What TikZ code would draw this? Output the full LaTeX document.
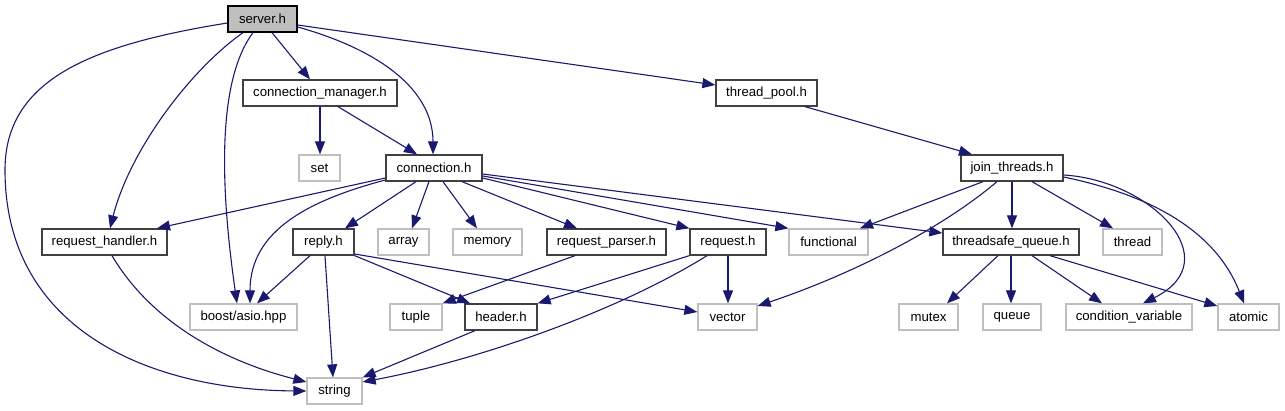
\documentclass[tikz,border=0pt]{standalone}
\usepackage{fontspec}
\setmainfont{Liberation Sans}
\usetikzlibrary{arrows.meta}
\definecolor{edgeblue}{HTML}{191970}
\definecolor{sysgray}{HTML}{BFBFBF}
\definecolor{docborder}{HTML}{404040}
\begin{document}
\begin{tikzpicture}[x=1pt,y=-1pt,
  box/.style={rectangle, inner sep=0pt, minimum height=26pt, font=\fontsize{13.2}{15}\selectfont, fill=white, line width=1.3pt},
  doc/.style={box, draw=docborder},
  sys/.style={box, draw=sysgray},
  cur/.style={box, draw=black, fill=sysgray},
  dep/.style={draw=edgeblue, line width=1.1pt, -{Triangle[length=13pt,width=10pt]}, fill=none}
]
\useasboundingbox (0,0) rectangle (1285,411);
% nodes
\node[cur, minimum width=69pt] (server) at (262.5,19) {server.h};
\node[doc, minimum width=154pt] (cmgr) at (320,93) {connection\_manager.h};
\node[doc, minimum width=101pt] (tpool) at (766.5,93) {thread\_pool.h};
\node[doc, minimum width=102pt] (join) at (1012,168) {join\_threads.h};
\node[sys, minimum width=41pt] (set) at (319.5,168) {set};
\node[doc, minimum width=96pt] (conn) at (434,168) {connection.h};
\node[doc, minimum width=125pt] (rhandler) at (104.5,242) {request\_handler.h};
\node[doc, minimum width=61pt] (reply) at (323.5,242) {reply.h};
\node[sys, minimum width=51pt] (array) at (403.5,242) {array};
\node[sys, minimum width=69pt] (memory) at (487.5,242) {memory};
\node[doc, minimum width=119pt] (rparser) at (606.5,242) {request\_parser.h};
\node[doc, minimum width=76pt] (request) at (728,242) {request.h};
\node[sys, minimum width=79pt] (functional) at (828.5,242) {functional};
\node[doc, minimum width=136pt] (tsq) at (1011,242) {threadsafe\_queue.h};
\node[sys, minimum width=59pt] (thread) at (1132.5,242) {thread};
\node[sys, minimum width=59pt] (mutex) at (928.5,317) {mutex};
\node[sys, minimum width=58pt] (queue) at (1012,317) {queue};
\node[sys, minimum width=126pt] (condvar) at (1129,317) {condition\_variable};
\node[sys, minimum width=61pt] (atomic) at (1248.5,317) {atomic};
\node[sys, minimum width=107pt] (asio) at (243.5,317) {boost/asio.hpp};
\node[sys, minimum width=52pt] (tuple) at (416,317) {tuple};
\node[doc, minimum width=72pt] (header) at (501,317) {header.h};
\node[sys, minimum width=59pt] (vector) at (727.5,317) {vector};
\node[sys, minimum width=55pt] (string) at (334.5,391) {string};
% edges from server.h
\draw[dep] ([yshift=-4pt]server.west) .. controls (90,45) and (5,80) .. (5,170) .. controls (5,330) and (150,390) .. (string.west);
\draw[dep] ([xshift=-19.5pt]server.south) .. controls (190,70) and (130,150) .. ([xshift=5.5pt]rhandler.north);
\draw[dep] ([xshift=-9.5pt]server.south) .. controls (225,70) and (215,150) .. ([xshift=-6.5pt]asio.north);
\draw[dep] ([xshift=9.5pt]server.south) -- ([xshift=-10pt]cmgr.north);
\draw[dep] ([yshift=-8pt]server.east) .. controls (380,50) and (433,90) .. ([xshift=-1pt]conn.north);
\draw[dep] ([yshift=-6pt]server.east) -- ([yshift=8pt]tpool.west);
% connection_manager.h
\draw[dep] (cmgr.south) -- (cmgr.south |- set.north);
\draw[dep] ([xshift=18pt]cmgr.south) -- ([xshift=-17pt]conn.north);
% thread_pool.h
\draw[dep] ([xshift=38.5pt]tpool.south) -- ([xshift=-40pt]join.north);
% connection.h
\draw[dep] ([yshift=-10pt]conn.west) -- ([xshift=52.5pt]rhandler.north);
\draw[dep] ([yshift=-12pt]conn.west) .. controls (310,200) and (250,230) .. ([xshift=6.5pt]asio.north);
\draw[dep] ([xshift=-18pt]conn.south) -- ([xshift=21.5pt]reply.north);
\draw[dep] ([xshift=-5pt]conn.south) -- ([xshift=8.5pt]array.north);
\draw[dep] ([xshift=9pt]conn.south) -- ([xshift=-10.5pt]memory.north);
\draw[dep] ([xshift=28pt]conn.south) -- ([xshift=-29.5pt]rparser.north);
\draw[dep] ([yshift=-10pt]conn.east) -- (request.north west);
\draw[dep] ([yshift=-8pt]conn.east) -- (functional.north west);
\draw[dep] ([yshift=-6pt]conn.east) -- ([yshift=9pt]tsq.west);
% reply.h
\draw[dep] ([xshift=-13.5pt]reply.south) -- ([xshift=13.5pt]asio.north);
\draw[dep] ([xshift=1.5pt]reply.south) -- ([xshift=-1.5pt]string.north);
\draw[dep] (reply.south east) -- ([xshift=-31pt]header.north);
\draw[dep] ([yshift=-12pt]reply.east) -- ([yshift=5pt]vector.west);
% request_parser.h
\draw[dep] ([xshift=-31.5pt]rparser.south) -- (tuple.north east);
% request.h
\draw[dep] (request.south west) -- (header.north east);
\draw[dep] ([xshift=-21pt]request.south) .. controls (620,310) and (480,360) .. ([yshift=9pt]string.east);
\draw[dep] (request.south) -- (request.south |- vector.north);
% header.h
\draw[dep] ([xshift=-26pt]header.south) -- (string.north east);
% request_handler.h
\draw[dep] ([xshift=7.5pt]rhandler.south) .. controls (150,320) and (220,360) .. ([yshift=9pt]string.west);
% join_threads.h
\draw[dep] ([xshift=-29pt]join.south) -- ([xshift=31.5pt]functional.north);
\draw[dep] ([xshift=-15pt]join.south) .. controls (940,230) and (850,275) .. ([yshift=11pt]vector.east);
\draw[dep] (join.south) -- (join.south |- tsq.north);
\draw[dep] ([xshift=20pt]join.south) -- ([xshift=-19.5pt]thread.north);
\draw[dep] ([yshift=-7pt]join.east) .. controls (1150,180) and (1230,260) .. ([xshift=14pt]condvar.north);
\draw[dep] ([yshift=-9pt]join.east) .. controls (1150,195) and (1215,230) .. ([xshift=-4.5pt]atomic.north);
% threadsafe_queue.h
\draw[dep] ([xshift=-13pt]tsq.south) -- ([xshift=18.5pt]mutex.north);
\draw[dep] (tsq.south) -- (tsq.south |- queue.north);
\draw[dep] ([xshift=21pt]tsq.south) -- ([xshift=-27pt]condvar.north);
\draw[dep] ([xshift=39pt]tsq.south) -- ([yshift=11pt]atomic.west);
\end{tikzpicture}
\end{document}
